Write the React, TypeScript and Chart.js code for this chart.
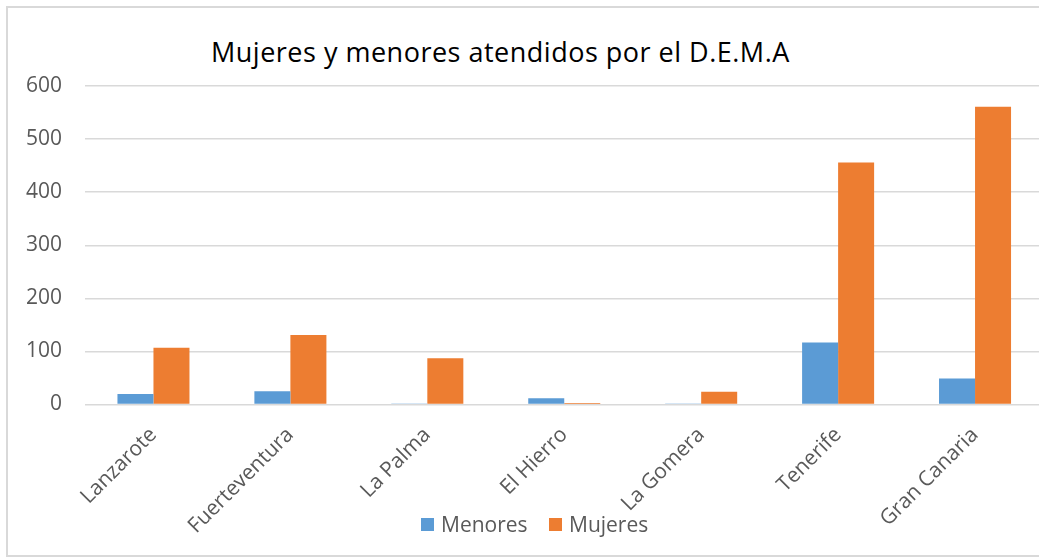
import React, { useEffect, useRef } from "react";
import { Chart, registerables } from "chart.js";

Chart.register(...registerables);

const title = "Mujeres y menores atendidos por el D.E.M.A";
const categories = [
  "Lanzarote",
  "Fuerteventura",
  "La Palma",
  "El Hierro",
  "La Gomera",
  "Tenerife",
  "Gran Canaria",
];
const seriesNames = ["Menores", "Mujeres"];
const menores = [20, 25, 1, 12, 1, 117, 49];
const mujeres = [107, 131, 87, 3, 24, 456, 561];
const yMin = 0;
const yMax = 600;
const yStep = 100;

const BLUE = "#5B9BD5";
const ORANGE = "#ED7D31";
const COLORS = [BLUE, ORANGE];
const TEXT = "#595959";
const GRID = "#D9D9D9";
const FONT = "'Open Sans', 'Noto Sans', sans-serif";

export default function App() {
  const canvasRef = useRef<HTMLCanvasElement | null>(null);

  useEffect(() => {
    if (!canvasRef.current) return;
    const chart = new Chart(canvasRef.current, {
      type: "bar",
      data: {
        labels: categories,
        datasets: [
          {
            label: seriesNames[0],
            data: menores,
            backgroundColor: BLUE,
            borderWidth: 0,
            categoryPercentage: 0.526,
            barPercentage: 1,
          },
          {
            label: seriesNames[1],
            data: mujeres,
            backgroundColor: ORANGE,
            borderWidth: 0,
            categoryPercentage: 0.526,
            barPercentage: 1,
          },
        ],
      },
      options: {
        responsive: false,
        animation: false,
        layout: {
          autoPadding: false,
          padding: { top: 78, left: 18, right: 17.5, bottom: 16.5 },
        },
        plugins: {
          title: { display: false },
          tooltip: { enabled: false },
          legend: { display: false },
        },
        scales: {
          x: {
            grid: { display: false, drawTicks: false },
            border: { display: false },
            ticks: {
              color: TEXT,
              font: { family: FONT, size: 21 },
              maxRotation: 45,
              minRotation: 45,
              autoSkip: false,
              padding: 18,
            },
            afterFit: (scale: any) => {
              scale.height = 135;
              scale.paddingLeft = 0;
              scale.paddingRight = 0;
            },
          },
          y: {
            min: yMin,
            max: yMax,
            grid: { color: GRID, lineWidth: 1.5, drawTicks: false },
            border: { display: false },
            ticks: {
              stepSize: yStep,
              color: TEXT,
              font: { family: FONT, size: 21 },
              padding: 23,
            },
            afterFit: (scale: any) => {
              scale.width = 59;
            },
          },
        },
      },
    });
    return () => chart.destroy();
  }, []);

  const legendX = [421, 549];

  return (
    <div
      style={{
        position: "fixed",
        left: 0,
        top: 0,
        width: "100vw",
        height: "100vh",
        overflow: "hidden",
        background: "#fff",
      }}
    >
      <div
        style={{
          position: "absolute",
          left: 6,
          top: 6,
          width: 1100,
          height: 551,
          border: "2px solid #D9D9D9",
          boxSizing: "border-box",
        }}
      />
      <div
        style={{
          position: "absolute",
          left: 211,
          top: 34.5,
          fontFamily: FONT,
          fontSize: 27,
          letterSpacing: "0.5px",
          lineHeight: "34px",
          color: "#000",
          whiteSpace: "nowrap",
        }}
      >
        {title}
      </div>
      <canvas
        ref={canvasRef}
        width={1053}
        height={548}
        style={{ position: "absolute", left: 8, top: 8, width: 1053, height: 548 }}
      />
      {seriesNames.map((name, i) => (
        <div key={name}>
          <div
            style={{
              position: "absolute",
              left: legendX[i],
              top: 518,
              width: 13,
              height: 13,
              background: COLORS[i],
            }}
          />
          <div
            style={{
              position: "absolute",
              left: legendX[i] + 20,
              top: 509.5,
              fontFamily: FONT,
              fontSize: 21,
              lineHeight: "28px",
              color: TEXT,
              whiteSpace: "nowrap",
            }}
          >
            {name}
          </div>
        </div>
      ))}
    </div>
  );
}
